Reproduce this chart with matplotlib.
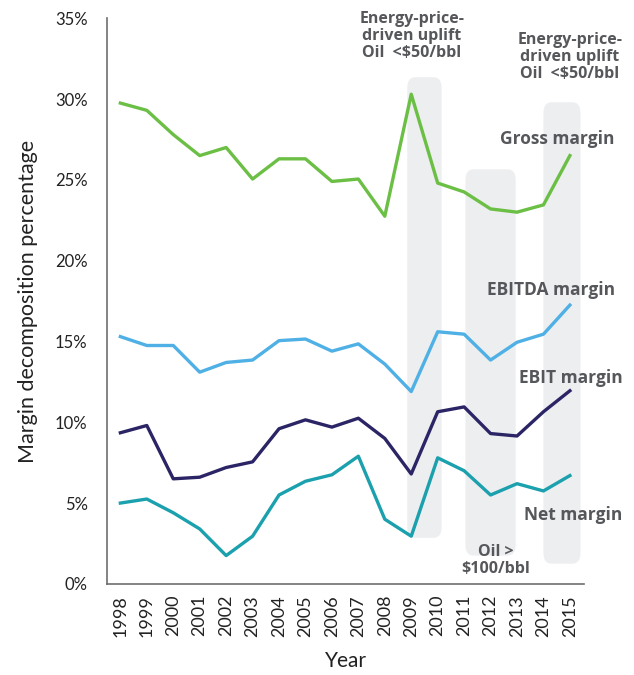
import matplotlib
matplotlib.use("Agg")
import matplotlib.pyplot as plt
from matplotlib.patches import FancyBboxPatch

# ---------- Data ----------
years = list(range(1998, 2016))
gross = [29.75, 29.3, 27.8, 26.5, 27.0, 25.05, 26.3, 26.3, 24.9, 25.05,
         22.75, 30.3, 24.8, 24.25, 23.2, 23.0, 23.45, 26.5]
ebitda = [15.3, 14.75, 14.75, 13.1, 13.7, 13.85, 15.05, 15.15, 14.4, 14.85,
          13.6, 11.9, 15.6, 15.45, 13.85, 14.95, 15.45, 17.25]
ebit = [9.35, 9.8, 6.5, 6.6, 7.2, 7.55, 9.6, 10.15, 9.7, 10.25,
        9.0, 6.8, 10.65, 10.95, 9.3, 9.15, 10.65, 11.95]
net = [5.0, 5.25, 4.4, 3.4, 1.75, 2.95, 5.5, 6.35, 6.75, 7.9,
       4.0, 2.95, 7.8, 7.0, 5.5, 6.2, 5.75, 6.7]

# shaded periods: (x start, x end, y bottom, y top)
bands = [(2008.85, 2010.15, 2.85, 31.35),
         (2011.05, 2012.95, 1.75, 25.65),
         (2014.0, 2015.4, 1.25, 29.8)]

txt = "#55575b"
fig = plt.figure(figsize=(6.34, 6.75), dpi=100)
ax = fig.add_axes([0.169, 0.135, 0.752, 0.838])

for x0, x1, y0, y1 in bands:
    ax.add_patch(FancyBboxPatch((x0, y0), x1 - x0, y1 - y0,
                                boxstyle="round,pad=0,rounding_size=0.3",
                                mutation_aspect=2.2,
                                fc="#edeef0", ec="none", zorder=0))

ax.plot(years, gross, color="#6cbf45", lw=2.4, zorder=3)
ax.plot(years, ebitda, color="#4fb0e5", lw=2.4, zorder=3)
ax.plot(years, ebit, color="#2b2566", lw=2.4, zorder=3)
ax.plot(years, net, color="#1ba0ae", lw=2.4, zorder=3)

ax.set_xlim(1997.5, 2015.53)
ax.set_ylim(0, 35)
ax.set_xticks(years)
ax.set_xticklabels([str(y) for y in years], rotation=90, fontsize=13,
                   family="Lato", color="#222222")
ax.set_yticks(range(0, 36, 5))
ax.set_yticklabels([f"{v}%" for v in range(0, 36, 5)], fontsize=12,
                   family="Lato", color="#222222")
ax.tick_params(length=0, pad=14)
ax.tick_params(axis="x", pad=8)
for s in ["top", "right"]:
    ax.spines[s].set_visible(False)
for s in ["left", "bottom"]:
    ax.spines[s].set_color("#6d6e71")
    ax.spines[s].set_linewidth(1.2)

ax.set_ylabel("Margin decomposition percentage", fontsize=15.5,
              family="Lato", color="#222222", labelpad=12)
ax.set_xlabel("Year", fontsize=15, family="Lato", color="#222222",
              labelpad=10)

kw = dict(fontsize=11.5, fontweight="bold", family="Open Sans", color=txt,
          clip_on=False, zorder=4)
ax.text(2009.03, 33.9, "Energy-price-\ndriven uplift\nOil  <$50/bbl",
        ha="center", va="center", linespacing=1.1, **kw)
ax.text(2015.0, 32.6, "Energy-price-\ndriven uplift\nOil  <$50/bbl",
        ha="center", va="center", linespacing=1.1, **kw)
ax.text(2012.2, 1.45, "Oil >\n$100/bbl", ha="center", va="center",
        linespacing=1.1, **kw)
ax.text(2016.7, 27.5, "Gross margin", ha="right", va="center",
        **dict(kw, fontsize=12.5))
ax.text(2016.7, 18.2, "EBITDA margin", ha="right", va="center",
        **dict(kw, fontsize=12.5))
ax.text(2017.0, 12.75, "EBIT margin", ha="right", va="center",
        **dict(kw, fontsize=12.5))
ax.text(2017.0, 4.25, "Net margin", ha="right", va="center",
        **dict(kw, fontsize=12.5))

fig.savefig("out.png", dpi=100)
